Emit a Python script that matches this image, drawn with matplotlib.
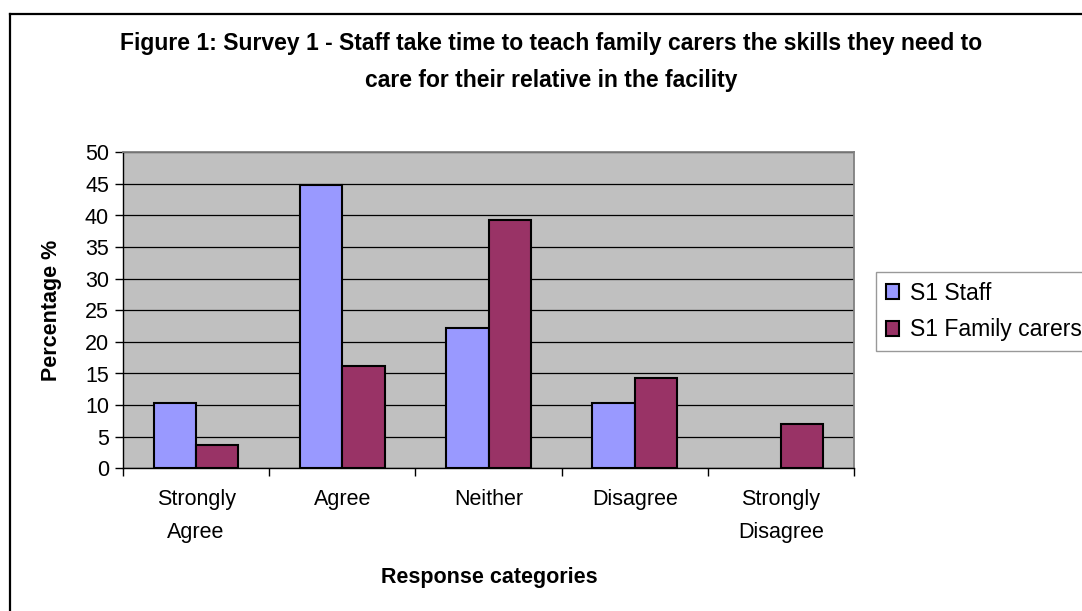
import matplotlib
matplotlib.use("Agg")
import matplotlib.pyplot as plt
from matplotlib.lines import Line2D
import numpy as np

categories = ["Strongly\nAgree", "Agree", "Neither", "Disagree", "Strongly\nDisagree"]
staff = [10.4, 44.8, 22.2, 10.4, 0.0]
family = [3.7, 16.2, 39.3, 14.3, 7.0]
series_names = ["S1 Staff", "S1 Family carers"]
yticks = [0, 5, 10, 15, 20, 25, 30, 35, 40, 45, 50]

plt.rcParams["font.family"] = ["Liberation Sans", "DejaVu Sans"]
FS = 15.5
FS_TITLE = 16.5

W, H = 1082, 611
fig = plt.figure(figsize=(W / 100, H / 100), dpi=100)
fig.patch.set_facecolor("white")

ax = fig.add_axes([123 / W, 1 - 468.3 / H, (854 - 123) / W, (468.3 - 152.3) / H])
ax.set_facecolor("#C0C0C0")

x = np.arange(len(categories))
bw = 0.29
ax.bar(x - bw / 2, staff, bw, color="#9999FF", edgecolor="black",
       linewidth=[1.5 if v > 0 else 0 for v in staff],
       label=series_names[0], zorder=3)
ax.bar(x + bw / 2, family, bw, color="#993366", edgecolor="black",
       linewidth=[1.5 if v > 0 else 0 for v in family],
       label=series_names[1], zorder=3)

ax.set_xlim(-0.5, len(categories) - 0.5)
ax.set_ylim(0, 50)
ax.set_yticks(yticks)
ax.yaxis.grid(True, color="black", linewidth=0.9, zorder=1)
ax.set_axisbelow(True)

ax.set_xticks(x)
ax.set_xticklabels(categories, fontsize=FS, linespacing=1.75)
ax.set_xticks(np.arange(-0.5, len(categories), 1.0), minor=True)
ax.tick_params(axis="x", which="major", length=0, pad=15)
ax.tick_params(axis="x", which="minor", length=6, width=1, color="black", direction="out")
ax.tick_params(axis="y", length=6, width=1, color="black", direction="out", labelsize=FS, pad=4)

for side in ("top", "right"):
    ax.spines[side].set_color("#808080")
    ax.spines[side].set_linewidth(1.3)
for side in ("left", "bottom"):
    ax.spines[side].set_color("black")
    ax.spines[side].set_linewidth(1.0)

fig.text(489 / W, 1 - 577 / H, "Response categories", fontsize=FS,
         fontweight="bold", ha="center", va="center")
fig.text(52 / W, 1 - 310 / H, "Percentage %", rotation=90, fontsize=FS,
         fontweight="bold", ha="center", va="center")

fig.text(551 / W, 1 - 62 / H,
         "Figure 1: Survey 1 - Staff take time to teach family carers the skills they need to\n"
         "care for their relative in the facility",
         fontsize=FS_TITLE, fontweight="bold", ha="center", va="center", linespacing=1.83)

leg = ax.legend(loc="upper left", bbox_to_anchor=(876 / W, 1 - 272 / H),
                bbox_transform=fig.transFigure, fontsize=16.5, frameon=True,
                fancybox=False, handlelength=0.6, handleheight=0.6,
                handletextpad=0.45, borderpad=0.42, labelspacing=0.6,
                borderaxespad=0)
leg.get_frame().set_edgecolor("#808080")
leg.get_frame().set_linewidth(1.0)

# outer frame lines of the chart area
fig.add_artist(Line2D([10 / W, 1.0], [1 - 14 / H, 1 - 14 / H], color="black",
                      linewidth=1.6, transform=fig.transFigure))
fig.add_artist(Line2D([10 / W, 10 / W], [1 - 14 / H, 0.0], color="black",
                      linewidth=1.6, transform=fig.transFigure))

fig.savefig("out.png", dpi=100)
